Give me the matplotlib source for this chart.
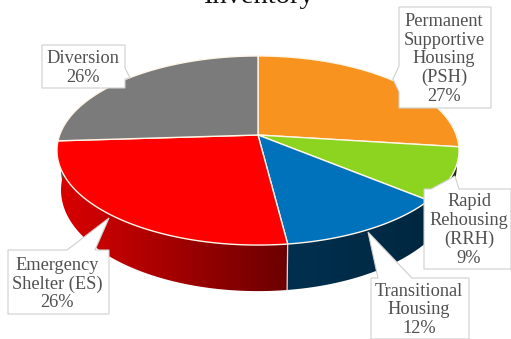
import numpy as np
import matplotlib
matplotlib.use("Agg")
import matplotlib.pyplot as plt
from matplotlib.patches import Polygon

# Programme categories and their share of the inventory, clockwise from 12 o'clock
categories = ["Permanent\nSupportive\nHousing\n(PSH)", "Rapid\nRehousing\n(RRH)",
              "Transitional\nHousing", "Emergency\nShelter (ES)", "Diversion"]
shares = [27, 9, 12, 26, 26]
title = "Inventory"

top_colors = ["#F7931E", "#8CD420", "#0072BC", "#FF0000", "#7B7B7B"]
# brightness of the rim at the right-hand and left-hand end of each slice
rim_shade = [(0.5, 0.5), (0.22, 0.22), (0.34, 0.42), (0.42, 0.86), (0.6, 0.6)]

# perspective of the tilted disc, in pixels
CX, CY = 258.0, 135.0
RX, RY, K = 198.3, 92.0, 0.164
DROP, BASE_SCALE = 38.5, 0.98


def project(theta, radius=1.0, base=False):
    """Screen position of a disc point; theta runs clockwise from the top."""
    x = radius * np.sin(theta)
    y = radius * np.cos(theta)
    w = 1.0 / (1.0 + K * y)
    if base:
        return CX + RX * BASE_SCALE * x * w, CY - RY * y * w + DROP * w
    return CX + RX * x * w, CY - RY * y * w


fig = plt.figure(figsize=(5.11, 3.39), dpi=100)
ax = fig.add_axes([0, 0, 1, 1])
ax.axis("off")

edges = 2 * np.pi * np.cumsum([0] + shares) / np.sum(shares)
rgb = [np.array(matplotlib.colors.to_rgb(c)) for c in top_colors]

# outer wall of each slice: a horizontal gradient clipped to the wall outline
for i in range(len(shares)):
    t = np.linspace(edges[i], edges[i + 1], 160)
    t = t[np.cos(t) < 0.2]
    if t.size < 2:
        continue
    xa, ya = project(t)
    xb, yb = project(t[::-1], base=True)
    outline = Polygon(np.c_[np.r_[xa, xb], np.r_[ya, yb]], closed=True,
                      facecolor="none", edgecolor="none", transform=ax.transData)
    ax.add_patch(outline)
    left, right = min(xa.min(), xb.min()), max(xa.max(), xb.max())
    ramp = np.linspace(rim_shade[i][1], rim_shade[i][0], 256)[None, :, None]
    img = ax.imshow(np.clip(ramp * rgb[i], 0, 1), extent=(left, right, 339, 0),
                    aspect="auto", interpolation="bilinear", zorder=2)
    img.set_clip_path(outline)

# seam on the wall where transitional housing meets emergency shelter
seam = edges[3]
sx0, sy0 = project(seam)
sx1, sy1 = project(seam, base=True)
ax.plot([sx0, sx1], [sy0, sy1], color="#E9D6D6", lw=0.9, zorder=3)

# top face of the slices
for i in range(len(shares)):
    t = np.linspace(edges[i], edges[i + 1], 120)
    xs, ys = project(t)
    ax.add_patch(Polygon(np.c_[np.r_[CX, xs], np.r_[CY, ys]], closed=True,
                         facecolor=top_colors[i], edgecolor="#FFF6E8", lw=1.0,
                         joinstyle="round", zorder=4))

# callouts: outline with pointer, then centred label text
callouts = [
    [(399, 7), (491, 7), (491, 108), (399, 108), (399, 92), (393, 79), (399, 66)],
    [(424, 189), (431, 189), (455, 176), (459, 189), (511, 189), (511, 269), (424, 269)],
    [(371, 278), (378, 278), (368, 232), (412, 278), (469, 278), (469, 339), (371, 339)],
    [(8, 250), (67, 250), (109, 218), (95, 250), (109, 250), (109, 314), (8, 314)],
    [(42, 45), (125, 45), (125, 68), (130, 78), (125, 79), (125, 88), (42, 88)],
]
text_centres = [(444, 59), (469, 230), (419, 310), (57, 284), (83, 68)]

for i, (outline, (tx, ty)) in enumerate(zip(callouts, text_centres)):
    ax.add_patch(Polygon(outline, closed=True, facecolor="white", edgecolor="#CFCFCF",
                         lw=0.8, zorder=6))
    ax.text(tx, ty, f"{categories[i]}\n{shares[i]}%", ha="center", va="center",
            family="Liberation Serif", fontsize=13.2, color="#505050",
            linespacing=1.13, zorder=7)

ax.text(258, 3, title, ha="center", va="baseline", family="Liberation Serif",
        fontsize=20.5, color="#111111", zorder=7, clip_on=False)

ax.set_xlim(0, 511)
ax.set_ylim(339, 0)
fig.savefig("out.png", dpi=100)
